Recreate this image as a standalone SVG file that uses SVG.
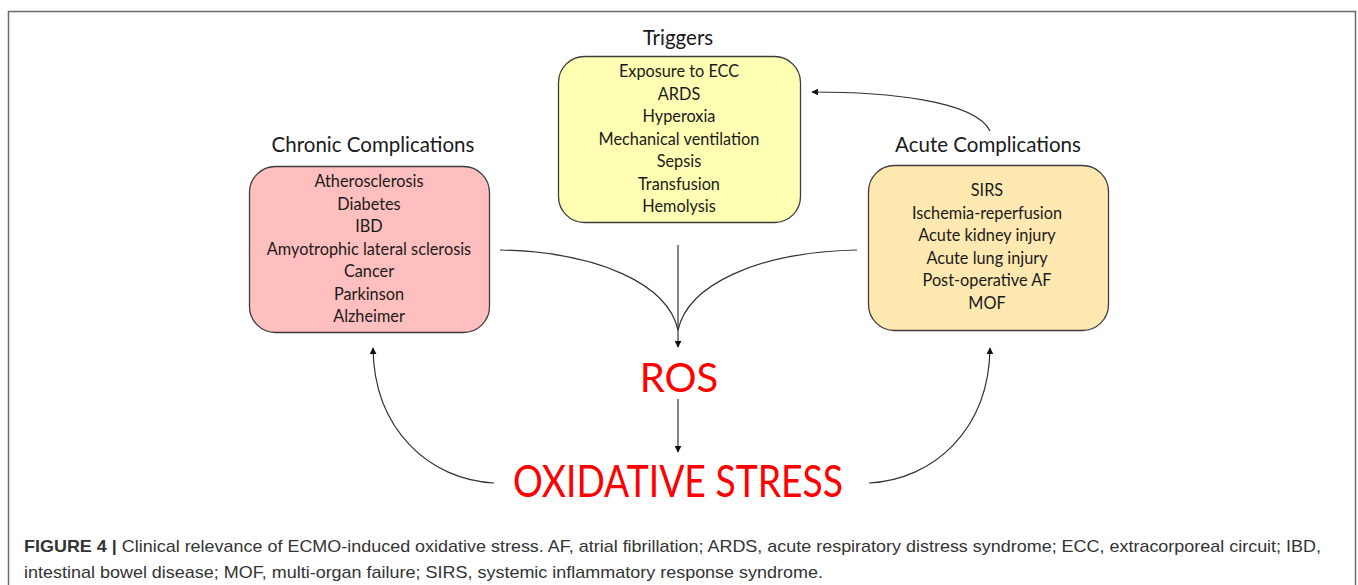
<svg xmlns="http://www.w3.org/2000/svg" width="1358" height="585" viewBox="0 0 1358 585">
<style>
.frame{fill:none;stroke:#6b6b6b;stroke-width:1.5}
.box{stroke:#3c3c3c;stroke-width:1.3}
.title{font-family:Lato,"Liberation Sans",sans-serif;font-size:20.5px;fill:#1a1a1a;text-anchor:middle}
.item{font-family:Lato,"Liberation Sans",sans-serif;font-size:16.3px;fill:#1a1a1a;text-anchor:middle}
.big{font-family:Lato,"Liberation Sans",sans-serif;fill:#ff0000;text-anchor:middle}
.conn{fill:none;stroke:#333;stroke-width:1.2}
.cap{font-family:"Liberation Sans",Arial,sans-serif;font-size:17px;fill:#333}
</style>
<defs>
<marker id="ah" viewBox="0 0 10 10" refX="9" refY="5" markerWidth="7" markerHeight="7" markerUnits="userSpaceOnUse" orient="auto">
<path d="M0,0 L10,5 L0,10 z" fill="#111"/>
</marker>
</defs>
<rect width="1358" height="585" fill="#fff"/>
<path class="frame" d="M8.5,585 V11.5 H1355.5 V585"/>

<g id="triggers">
<text class="title" x="678" y="45">Triggers</text>
<rect class="box" x="558.5" y="56.5" width="242" height="166" rx="26" fill="#ffffb3"/>
<text class="item" x="679" y="77">Exposure to ECC</text>
<text class="item" x="679" y="99.5">ARDS</text>
<text class="item" x="679" y="122">Hyperoxia</text>
<text class="item" x="679" y="144.5">Mechanical ventilation</text>
<text class="item" x="679" y="167">Sepsis</text>
<text class="item" x="679" y="189.5">Transfusion</text>
<text class="item" x="679" y="212">Hemolysis</text>
</g>

<g id="chronic">
<text class="title" x="373" y="152">Chronic Complications</text>
<rect class="box" x="249.5" y="166.5" width="240" height="166" rx="26" fill="#ffbfbf"/>
<text class="item" x="369" y="187">Atherosclerosis</text>
<text class="item" x="369" y="209.5">Diabetes</text>
<text class="item" x="369" y="232">IBD</text>
<text class="item" x="369" y="254.5">Amyotrophic lateral sclerosis</text>
<text class="item" x="369" y="277">Cancer</text>
<text class="item" x="369" y="299.5">Parkinson</text>
<text class="item" x="369" y="322">Alzheimer</text>
</g>

<g id="acute">
<text class="title" x="988" y="152">Acute Complications</text>
<rect class="box" x="868.5" y="165.5" width="240" height="165" rx="26" fill="#ffe9b0"/>
<text class="item" x="987" y="196">SIRS</text>
<text class="item" x="987" y="218.5">Ischemia-reperfusion</text>
<text class="item" x="987" y="241">Acute kidney injury</text>
<text class="item" x="987" y="263.5">Acute lung injury</text>
<text class="item" x="987" y="286">Post-operative AF</text>
<text class="item" x="987" y="308.5">MOF</text>
</g>

<g id="ros">
<text class="big" x="679" y="392" font-size="40">ROS</text>
</g>

<g id="oxidative-stress">
<text class="big" x="678" y="497" font-size="44" textLength="330" lengthAdjust="spacingAndGlyphs">OXIDATIVE STRESS</text>
</g>

<g id="connectors">
<path class="conn" d="M500,250 C600,252 668,285 678,330"/>
<path class="conn" d="M857,250 C757,252 688,285 678,330"/>
<path class="conn" d="M678,245 V347" marker-end="url(#ah)"/>
<path class="conn" d="M678,399 V452" marker-end="url(#ah)"/>
<path class="conn" d="M494,483 C430,480 374,430 373,348" marker-end="url(#ah)"/>
<path class="conn" d="M869,483 C933,480 989,430 990,348" marker-end="url(#ah)"/>
<path class="conn" d="M990,131 C975,100 885,92 812,92" marker-end="url(#ah)"/>
</g>

<g id="caption">
<text class="cap" x="24" y="552" textLength="1297" lengthAdjust="spacingAndGlyphs"><tspan font-weight="bold">FIGURE 4 |</tspan> Clinical relevance of ECMO-induced oxidative stress. AF, atrial fibrillation; ARDS, acute respiratory distress syndrome; ECC, extracorporeal circuit; IBD,</text>
<text class="cap" x="24" y="578" textLength="799" lengthAdjust="spacingAndGlyphs">intestinal bowel disease; MOF, multi-organ failure; SIRS, systemic inflammatory response syndrome.</text>
</g>
</svg>
